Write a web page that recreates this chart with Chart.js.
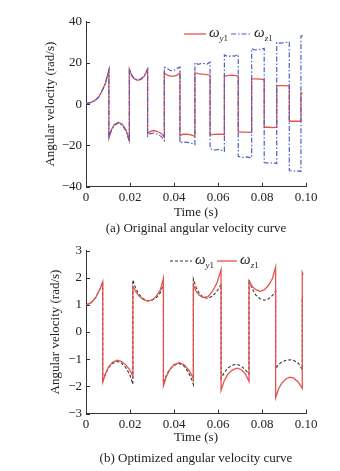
<!DOCTYPE html>
<html lang="en">
<head>
<meta charset="UTF-8">
<title>Angular velocity curves</title>
<script src="https://cdn.jsdelivr.net/npm/chart.js"></script>
<style>
  body { margin: 0; width: 340px; height: 471px; background: #fff; position: relative; overflow: hidden;
         font-family: "Liberation Serif", "Times New Roman", serif; color: #222; }
  canvas { position: absolute; left: 0; }
  .caption { position: absolute; left: 76px; width: 240px; text-align: center; font-size: 13px; white-space: nowrap; }
  .legend { position: absolute; display: flex; align-items: center; font-size: 15px; white-space: nowrap; }
  .legend svg { display: block; }
  .legend span { margin: 0 3px 0 3px; }
  .legend sub { font-size: 9px; }
</style>
</head>
<body>
  <canvas id="chartA" width="340" height="236" style="top:0"></canvas>
  <canvas id="chartB" width="340" height="235" style="top:236px"></canvas>

  <div class="legend" style="left:184px; top:24px;">
    <svg width="22" height="4"><line x1="0" y1="2" x2="22" y2="2" stroke="#e5534f" stroke-width="1.3"/></svg>
    <span><i>ω</i><sub><i>y</i>1</sub></span>
    <svg width="20" height="4"><line x1="0" y1="2" x2="20" y2="2" stroke="#4b5fc6" stroke-width="1.2" stroke-dasharray="5 2 1.5 2"/></svg>
    <span><i>ω</i><sub><i>z</i>1</sub></span>
  </div>
  <div class="legend" style="left:170px; top:251px;">
    <svg width="22" height="4"><line x1="0" y1="2" x2="22" y2="2" stroke="#333" stroke-width="1.2" stroke-dasharray="3 2"/></svg>
    <span><i>ω</i><sub><i>y</i>1</sub></span>
    <svg width="20" height="4"><line x1="0" y1="2" x2="20" y2="2" stroke="#e5534f" stroke-width="1.3"/></svg>
    <span><i>ω</i><sub><i>z</i>1</sub></span>
  </div>

  <div class="caption" style="top:220px;">(a) Original angular velocity curve</div>
  <div class="caption" style="top:450px;">(b) Optimized angular velocity curve</div>

<script>
// ---- (a) original curve: time (s) and angular velocity (rad/s) ----
const timeA = [
  0, 0.002, 0.004, 0.0056, 0.007, 0.0088, 0.0104,
  0.0104, 0.0115, 0.0128, 0.0147, 0.0165, 0.0182, 0.0197,
  0.0197, 0.0208, 0.022, 0.0235, 0.025, 0.0265, 0.028,
  0.028, 0.0292, 0.031, 0.033, 0.0345, 0.0356,
  0.0356, 0.037, 0.0385, 0.040, 0.0415, 0.0427,
  0.0427, 0.044, 0.046, 0.048, 0.0495,
  0.0495, 0.051, 0.053, 0.055, 0.0564,
  0.0564, 0.058, 0.060, 0.062, 0.0629,
  0.0629, 0.0645, 0.066, 0.0675, 0.0692,
  0.0692, 0.071, 0.073, 0.0753,
  0.0753, 0.077, 0.079, 0.081,
  0.081, 0.083, 0.085, 0.0867,
  0.0867, 0.0885, 0.0905, 0.0924,
  0.0924, 0.094, 0.096, 0.0977,
  0.0977, 0.0985
];
const omegaY1A = [
  0.2, 0.7, 1.7, 3.2, 5.7, 10, 16.5,
  -16.5, -12.5, -10, -8.8, -9.8, -12.5, -17.5,
  17, 13.8, 12.2, 11.5, 12, 13.5, 16.8,
  -14.5, -13.2, -12.8, -13.5, -14.5, -16,
  15, 14, 13.5, 13.5, 14, 15.3,
  -15.5, -14.6, -14.5, -15, -15.6,
  15.2, 14.8, 14.5, 14.3, 14,
  -15, -14.7, -14.5, -14.6, -14.9,
  13.5, 13.8, 14, 13.9, 13.6,
  -13.4, -13.6, -13.6, -13.7,
  12.2, 12.2, 12.1, 11.9,
  -11.2, -11.2, -11.4, -11.2,
  8.8, 8.9, 8.9, 8.7,
  -8.3, -8.3, -8.2, -8.3,
  5.5, 5.3
];
const omegaZ1A = [
  0.2, 0.7, 1.7, 3.2, 5.7, 10, 16.5,
  -16.5, -12.8, -10.3, -9.2, -10.3, -13, -18.2,
  17, 14, 12.3, 11.7, 12.2, 13.8, 17,
  -15.5, -14.3, -14, -14.8, -16, -17.6,
  17.8, 17.2, 16.2, 16.3, 17.3, 18,
  -18.8, -18.3, -18.5, -19, -19.6,
  20, 19.3, 19.8, 19.4, 20.3,
  -21.5, -22.3, -22, -22.4, -22.8,
  23.8, 23, 23.4, 23.2, 24,
  -25.3, -25.8, -25.6, -26,
  26.8, 26.2, 26.5, 27,
  -28.3, -28.6, -28.4, -28.8,
  29.8, 29.5, 29.8, 30,
  -32.2, -32.5, -32.3, -32.6,
  33, 33
];

// ---- (b) optimized curve ----
const timeB = [
  0, 0.002, 0.0033, 0.0045, 0.0056, 0.0066, 0.0076,
  0.0076, 0.0088, 0.0102, 0.012, 0.014, 0.016, 0.018, 0.0198, 0.0213,
  0.0213, 0.0225, 0.024, 0.026, 0.028, 0.030, 0.032, 0.0338, 0.0352,
  0.0352, 0.0365, 0.038, 0.040, 0.0424, 0.0445, 0.0465, 0.0478, 0.0488,
  0.0488, 0.050, 0.0515, 0.0533, 0.0555, 0.0575, 0.0595, 0.0614,
  0.0614, 0.0628, 0.0645, 0.0665, 0.0685, 0.0705, 0.0725, 0.0741,
  0.0741, 0.0755, 0.0772, 0.0791, 0.081, 0.083, 0.0848, 0.0862,
  0.0862, 0.0875, 0.089, 0.091, 0.0927, 0.0945, 0.0965, 0.0983,
  0.0983, 0.0987
];
const omegaY1B = [
  1.0, 1.06, 1.16, 1.28, 1.46, 1.62, 1.84,
  -1.84, -1.55, -1.32, -1.16, -1.08, -1.14, -1.3, -1.55, -1.92,
  1.92, 1.62, 1.4, 1.22, 1.15, 1.17, 1.27, 1.45, 1.75,
  -1.88, -1.6, -1.38, -1.22, -1.16, -1.25, -1.48, -1.7, -1.93,
  1.95, 1.65, 1.42, 1.27, 1.24, 1.32, 1.5, 1.75,
  -1.71, -1.5, -1.32, -1.22, -1.19, -1.25, -1.4, -1.55,
  1.92, 1.6, 1.36, 1.22, 1.17, 1.22, 1.35, 1.5,
  -1.35, -1.2, -1.1, -1.04, -1.02, -1.05, -1.15, -1.37,
  1.28, 1.28
];
const omegaZ1B = [
  1.0, 1.06, 1.16, 1.28, 1.46, 1.62, 1.84,
  -1.84, -1.55, -1.3, -1.12, -1.04, -1.08, -1.2, -1.38, -1.62,
  1.68, 1.5, 1.33, 1.2, 1.14, 1.18, 1.32, 1.55, 1.98,
  -1.98, -1.65, -1.4, -1.2, -1.13, -1.2, -1.38, -1.55, -1.72,
  1.74, 1.5, 1.35, 1.27, 1.3, 1.5, 1.8, 2.3,
  -2.14, -1.8, -1.55, -1.4, -1.33, -1.38, -1.55, -1.82,
  1.88, 1.68, 1.56, 1.5, 1.55, 1.72, 1.98, 2.39,
  -2.42, -2.1, -1.88, -1.72, -1.66, -1.7, -1.85, -2.07,
  2.2, 2.12
];

const xTicks = [0, 0.02, 0.04, 0.06, 0.08, 0.10];
const yTicksA = [-40, -20, 0, 20, 40];
const yTicksB = [-3, -2, -1, 0, 1, 2, 3];

const red = '#e5534f';
const blue = '#4b5fc6';
const black = '#333';
const axisColor = '#333';
const font = { family: "'Liberation Serif', 'Times New Roman', serif", size: 13 };

// small tick marks pointing into the plot, like the original figure
const inwardTicks = {
  id: 'inwardTicks',
  afterDraw(chart) {
    const ctx = chart.ctx, x = chart.scales.x, y = chart.scales.y;
    ctx.save();
    ctx.strokeStyle = axisColor;
    ctx.lineWidth = 1;
    ctx.beginPath();
    x.ticks.forEach(t => {
      const px = Math.round(x.getPixelForValue(t.value)) + 0.5;
      ctx.moveTo(px, y.bottom); ctx.lineTo(px, y.bottom - 4);
    });
    y.ticks.forEach(t => {
      const py = Math.round(y.getPixelForValue(t.value)) + 0.5;
      ctx.moveTo(x.left, py); ctx.lineTo(x.left + 4, py);
    });
    ctx.stroke();
    ctx.restore();
  }
};

function points(t, v) {
  return t.map((x, i) => ({ x: x, y: v[i] }));
}

function makeChart(id, datasets, yTicks, lay) {
  new Chart(document.getElementById(id), {
    type: 'line',
    data: { datasets: datasets },
    options: {
      responsive: false,
      animation: false,
      devicePixelRatio: 1,
      layout: { padding: { left: lay.left, right: 34, top: lay.top, bottom: lay.bottom } },
      plugins: { legend: { display: false }, tooltip: { enabled: false } },
      elements: { point: { radius: 0 }, line: { tension: 0 } },
      scales: {
        x: {
          type: 'linear',
          min: 0, max: 0.1,
          afterBuildTicks: s => { s.ticks = xTicks.map(v => ({ value: v })); },
          afterFit: s => { s.height = lay.xh; },
          grid: { display: false, drawTicks: false },
          border: { display: true, color: axisColor, width: 1 },
          ticks: {
            color: '#222', font: font, padding: 3, maxRotation: 0,
            callback: v => v === 0 ? '0' : v.toFixed(2)
          },
          title: { display: true, text: 'Time (s)', color: '#222', font: font, padding: 0 }
        },
        y: {
          min: yTicks[0], max: yTicks[yTicks.length - 1],
          afterBuildTicks: s => { s.ticks = yTicks.map(v => ({ value: v })); },
          afterFit: s => { s.width = 86 - lay.left; },
          grid: { display: false, drawTicks: false },
          border: { display: true, color: axisColor, width: 1 },
          ticks: {
            color: '#222', font: font, padding: 4,
            callback: v => String(v).replace('-', '\u2212')
          },
          title: { display: true, text: 'Angular velocity (rad/s)', color: '#222', font: font, padding: 0 }
        }
      }
    },
    plugins: [inwardTicks]
  });
}

makeChart('chartA', [
  { label: 'ωy1', data: points(timeA, omegaY1A), borderColor: red, borderWidth: 1.3, order: 1 },
  { label: 'ωz1', data: points(timeA, omegaZ1A), borderColor: blue, borderWidth: 1.2,
    borderDash: [5, 2, 1.5, 2], order: 0 }
], yTicksA, { left: 43, top: 21.5, bottom: 16, xh: 33.3 });

makeChart('chartB', [
  { label: 'ωy1', data: points(timeB, omegaY1B), borderColor: black, borderWidth: 1.1,
    borderDash: [3, 2], order: 1 },
  { label: 'ωz1', data: points(timeB, omegaZ1B), borderColor: red, borderWidth: 1.3, order: 0 }
], yTicksB, { left: 48, top: 14.5, bottom: 25.2, xh: 32.3 });
</script>
</body>
</html>
